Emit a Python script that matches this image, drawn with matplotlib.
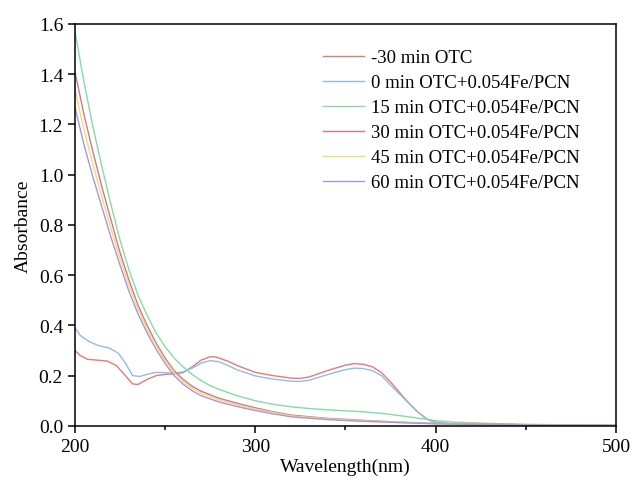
import numpy as np
import matplotlib
matplotlib.use("Agg")
import matplotlib.pyplot as plt
from matplotlib.ticker import MultipleLocator

plt.rcParams['font.family'] = ['Liberation Serif', 'DejaVu Serif']

# -30 min OTC (before catalyst)
wl_red = [200, 203, 207, 212, 218, 223, 228, 232, 235, 240, 245, 250, 255, 260, 265, 270,
          275, 278, 285, 290, 300, 310, 320, 325, 330, 340, 350, 355, 360, 365, 370, 375,
          380, 385, 390, 395, 400, 410, 450, 500]
abs_red = [0.30, 0.28, 0.265, 0.262, 0.258, 0.24, 0.20, 0.167, 0.165, 0.185, 0.20, 0.205,
           0.207, 0.212, 0.235, 0.262, 0.275, 0.275, 0.257, 0.240, 0.213, 0.200, 0.19, 0.189,
           0.195, 0.22, 0.242, 0.248, 0.245, 0.235, 0.212, 0.175, 0.133, 0.092, 0.056, 0.027,
           0.013, 0.006, 0.003, 0.001]

# 0 min
wl_blue = [200, 203, 208, 213, 219, 224, 228, 232, 236, 240, 245, 250, 255, 260, 265, 270,
           275, 280, 285, 290, 300, 310, 320, 325, 330, 340, 350, 355, 360, 365, 370, 375,
           380, 385, 390, 395, 400, 410, 450, 500]
abs_blue = [0.39, 0.36, 0.335, 0.32, 0.31, 0.29, 0.25, 0.200, 0.197, 0.205, 0.213, 0.212,
            0.21, 0.215, 0.23, 0.25, 0.26, 0.255, 0.24, 0.223, 0.199, 0.186, 0.178, 0.177,
            0.182, 0.204, 0.224, 0.23, 0.228, 0.22, 0.200, 0.163, 0.127, 0.091, 0.056, 0.029,
            0.015, 0.007, 0.003, 0.001]

# 15 min
wl_green = [200, 205, 210, 215, 220, 225, 230, 235, 240, 245, 250, 255, 260, 265, 270, 275,
            280, 290, 300, 310, 320, 330, 340, 350, 360, 370, 380, 390, 400, 410, 430, 450, 500]
abs_green = [1.57, 1.37, 1.19, 1.03, 0.88, 0.74, 0.62, 0.52, 0.44, 0.37, 0.315, 0.27, 0.235,
             0.205, 0.18, 0.16, 0.145, 0.12, 0.10, 0.086, 0.076, 0.069, 0.064, 0.060, 0.056,
             0.050, 0.041, 0.031, 0.021, 0.015, 0.010, 0.006, 0.003]

# 30, 45, 60 min
wl_late = [200, 205, 210, 215, 220, 225, 230, 235, 240, 245, 250, 255, 260, 265, 270, 280,
           290, 300, 310, 320, 340, 360, 380, 400, 450, 500]
abs_30 = [1.41, 1.24, 1.09, 0.95, 0.82, 0.69, 0.58, 0.48, 0.40, 0.33, 0.27, 0.22, 0.185,
          0.158, 0.138, 0.110, 0.090, 0.072, 0.056, 0.043, 0.030, 0.022, 0.015, 0.010,
          0.005, 0.002]
abs_45 = [1.34, 1.18, 1.04, 0.91, 0.785, 0.665, 0.56, 0.465, 0.385, 0.32, 0.26, 0.212,
          0.176, 0.150, 0.130, 0.103, 0.084, 0.067, 0.053, 0.040, 0.028, 0.020, 0.014,
          0.009, 0.004, 0.002]
abs_60 = [1.27, 1.12, 0.99, 0.87, 0.75, 0.64, 0.535, 0.445, 0.37, 0.305, 0.248, 0.200,
          0.166, 0.140, 0.120, 0.095, 0.077, 0.061, 0.048, 0.036, 0.025, 0.018, 0.013,
          0.008, 0.004, 0.002]

labels = ['-30 min OTC', '0 min OTC+0.054Fe/PCN', '15 min OTC+0.054Fe/PCN',
          '30 min OTC+0.054Fe/PCN', '45 min OTC+0.054Fe/PCN', '60 min OTC+0.054Fe/PCN']
colors = ['#e47a7a', '#8cbfe6', '#82de9e', '#c97a8e', '#f5d87c', '#a797d8']

fig = plt.figure(figsize=(6.35, 4.89), dpi=100)
ax = fig.add_axes([0.118, 0.127, 0.852, 0.822])

series = [(wl_red, abs_red), (wl_blue, abs_blue), (wl_green, abs_green),
          (wl_late, abs_30), (wl_late, abs_45), (wl_late, abs_60)]
for (x, y), lab, c in zip(series, labels, colors):
    ax.plot(x, y, color=c, lw=1.0, label=lab)

ax.set_xlim(200, 500)
ax.set_ylim(0, 1.6)
ax.xaxis.set_major_locator(MultipleLocator(100))
ax.xaxis.set_minor_locator(MultipleLocator(50))
ax.yaxis.set_major_locator(MultipleLocator(0.2))
ax.yaxis.set_major_formatter(matplotlib.ticker.FormatStrFormatter('%.1f'))
ax.tick_params(which='both', direction='out', labelsize=14, width=1.1)
ax.tick_params(which='major', length=5)
ax.tick_params(which='minor', length=3)
for s in ax.spines.values():
    s.set_linewidth(1.1)

ax.set_xlabel('Wavelength(nm)', fontsize=14, labelpad=2)
ax.set_ylabel('Absorbance', fontsize=14, labelpad=5)

ax.legend(loc='upper left', bbox_to_anchor=(0.458, 0.937), frameon=False, fontsize=13.5,
          handlelength=2.2, handletextpad=0.35, labelspacing=0.42, borderpad=0,
          borderaxespad=0)

fig.savefig('out.png', dpi=100)
